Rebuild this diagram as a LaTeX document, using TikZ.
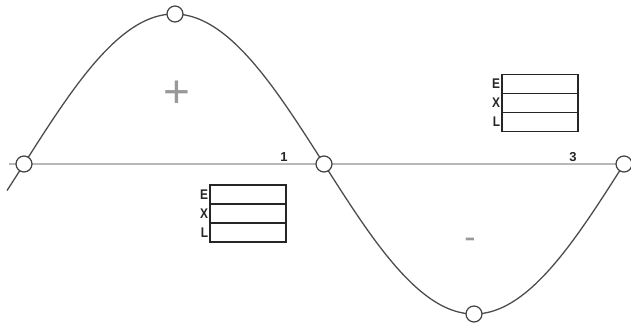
\documentclass[tikz,border=0pt]{standalone}
\usepackage{fontspec}
\setmainfont{Liberation Sans}
\usepackage{tikz}
\usetikzlibrary{positioning}

\begin{document}
\begin{tikzpicture}[
    x=1pt, y=-1pt,
    axis/.style={draw=black!28, line width=1.6pt},
    wave/.style={draw=black!70, line width=1.3pt},
    knot/.style={circle, draw=black!75, fill=white, line width=1.2pt, minimum size=16pt, inner sep=0pt},
    cell/.style={rectangle, draw=black!85, line width=1.3pt, minimum width=76pt, minimum height=19pt, inner sep=0pt, outer sep=0pt},
    tag/.style={font=\fontsize{14}{14}\selectfont\bfseries, text=black!85, inner sep=0pt, xscale=0.85, label distance=2pt},
    tick/.style={font=\fontsize{13}{13}\selectfont\bfseries, text=black!85, inner sep=0pt},
    sign/.style={text=black!40, inner sep=0pt}
]
    \useasboundingbox (0,0) rectangle (631,327);

    % axis and wave
    \coordinate (ax0) at (9,164);
    \coordinate (ax1) at (631,164);
    \draw [axis] (ax0) -- (ax1);
    \draw [wave] plot[domain=7:624, samples=240, smooth] (\x, {164-150*sin(0.6*(\x-24))});

    % points on the wave
    \node [knot] (z0) at (24,164) {};
    \node [knot] (top) at (175,14) {};
    \node [knot] (z1) at (324,164) {};
    \node [knot] (bot) at (474,314) {};
    \node [knot] (z2) at (624,164) {};

    % axis marks
    \node [tick, anchor=base] (one) at (284,161) {1};
    \node [tick, anchor=base] (three) at (573,161) {3};

    % signs
    \node [sign, font=\fontsize{46}{46}\selectfont] (plus) at (177,94) {+};
    \node [sign, font=\fontsize{34}{34}\selectfont] (minus) at (470,243) {-};

    % left box
    \node [cell, label={[tag]left:E}] (eL) at (248,194.5) {};
    \node [cell, below=0pt of eL, label={[tag]left:X}] (xL) {};
    \node [cell, below=0pt of xL, label={[tag]left:L}] (lL) {};

    % right box
    \node [cell, label={[tag]left:E}] (eR) at (540,84) {};
    \node [cell, below=0pt of eR, label={[tag]left:X}] (xR) {};
    \node [cell, below=0pt of xR, label={[tag]left:L}] (lR) {};
\end{tikzpicture}
\end{document}
